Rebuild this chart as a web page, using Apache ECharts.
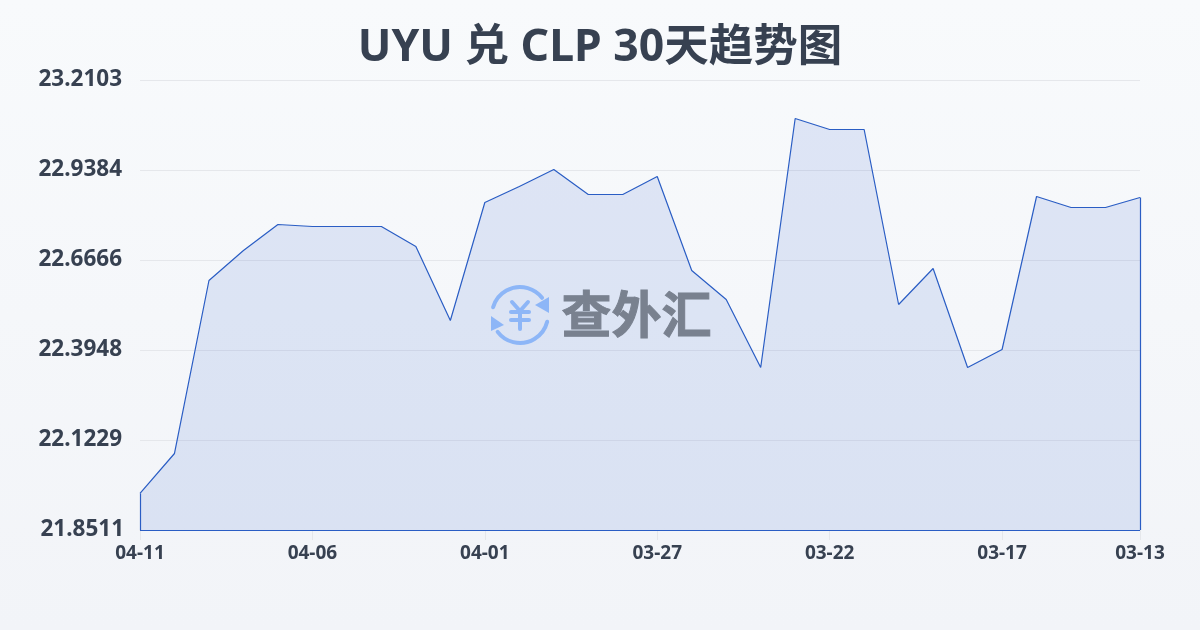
<!DOCTYPE html>
<html><head><meta charset="utf-8">
<style>html,body{margin:0;padding:0;background:#f6f8fb}#c{width:1200px;height:630px}</style>
<script src="https://cdn.jsdelivr.net/npm/echarts@6/dist/echarts.min.js"></script>
</head><body><div id="c"></div>
<script>
const titleText = 'UYU 兑 CLP 30天趋势图';
const dates = ['04-11','04-10','04-09','04-08','04-07','04-06','04-05','04-04','04-03','04-02','04-01','03-31','03-30','03-29','03-28','03-27','03-26','03-25','03-24','03-23','03-22','03-21','03-20','03-19','03-18','03-17','03-16','03-15','03-14','03-13'];
const rates = [21.9614,22.0822,22.6047,22.6953,22.7739,22.7678,22.7678,22.7678,22.7074,22.4839,22.8403,22.8886,22.9400,22.8645,22.8645,22.9188,22.6349,22.5473,22.3419,23.0940,23.0608,23.0608,22.5322,22.6410,22.3419,22.3963,22.8584,22.8252,22.8252,22.8554];
const yTicks = [21.8511,22.1229,22.3948,22.6666,22.9384,23.2103];
const xLabelIndexes = [0,5,10,15,20,25,29];

const LINE = '#2a5dc4', FONT = '"Noto Sans","Noto Sans CJK SC",sans-serif';
const yMin = yTicks[0], yMax = yTicks[yTicks.length-1], last = dates.length-1;
const showX = i => xLabelIndexes.includes(i);
const ic = {stroke:'#8db6f7', lineWidth:4, fill:'none', lineCap:'round'};
const deg = d => d*Math.PI/180;
const seg = (x1,y1,x2,y2) => ({type:'line',z:50,shape:{x1,y1,x2,y2},style:ic});
const yLabelStyle = {color:'#374151',fontFamily:FONT,fontSize:22.5,fontWeight:'bold'};

const chart = echarts.init(document.getElementById('c'));
chart.setOption({
  animation:false,
  backgroundColor:{type:'linear',x:0,y:0,x2:0,y2:1,colorStops:[{offset:0,color:'#f8fafc'},{offset:1,color:'#f2f4f8'}]},
  title:{text:titleText,left:'center',top:21,textStyle:{fontFamily:FONT,fontSize:44.5,fontWeight:'bold',color:'#374151'}},
  grid:{left:140,right:60,top:80,bottom:100,containLabel:false},
  xAxis:{type:'category',data:dates,boundaryGap:false,
    axisLine:{show:true,lineStyle:{color:'#e5e7eb'}},
    axisTick:{show:true,length:10,interval:showX,lineStyle:{color:'#e5e7eb'}},
    axisLabel:{interval:showX,margin:14,color:'#374151',fontFamily:FONT,fontSize:19,fontWeight:'bold'},
    splitLine:{show:false}},
  yAxis:{type:'value',min:yMin,max:yMax,
    axisLine:{show:false},
    axisTick:{show:false,customValues:yTicks},
    axisLabel:{customValues:yTicks,margin:16,
      formatter:v=>(v===yMin?'{low|':'{std|')+v.toFixed(4)+'}',
      rich:{std:{...yLabelStyle,padding:[0,2,0,0]},low:{...yLabelStyle,padding:[0,0,1,0]}}},
    splitLine:{show:true,lineStyle:{color:'#e5e7eb',width:1}}},
  series:[{type:'line',data:rates,showSymbol:false,symbol:'none',smooth:false,z:3,
    lineStyle:{color:LINE,width:1.2},
    areaStyle:{color:'rgba(30,85,205,0.17)',origin:'start'},
    markLine:{silent:true,symbol:'none',label:{show:false},lineStyle:{color:LINE,width:1.2,type:'solid'},
      data:[
        [{xAxis:0,yAxis:yMin},{xAxis:0,yAxis:rates[0]}],
        [{xAxis:last,yAxis:yMin},{xAxis:last,yAxis:rates[last]}],
        [{xAxis:0,yAxis:yMin},{xAxis:last,yAxis:yMin}]
      ]}
  }],
  graphic:[
    {type:'arc',z:50,shape:{cx:520,cy:315,r:28,startAngle:deg(196),endAngle:deg(322),clockwise:true},style:ic},
    {type:'arc',z:50,shape:{cx:520,cy:315,r:28,startAngle:deg(14),endAngle:deg(143),clockwise:true},style:ic},
    {type:'polygon',z:50,shape:{points:[[549,297],[549,313],[535,305]]},style:{fill:'#8db6f7'}},
    {type:'polygon',z:50,shape:{points:[[491,316],[491,331],[504,325]]},style:{fill:'#8db6f7'}},
    seg(512,302,520,311),seg(528,302,520,311),seg(511,312,529,312),seg(511,320,529,320),seg(520,311,520,329),
    {type:'text',z:50,left:561,top:289,style:{text:'查外汇',fill:'#79818f',stroke:'#79818f',lineWidth:1,fontFamily:'"Noto Sans CJK SC"',fontSize:50,fontWeight:'bold'}}
  ]
});
</script></body></html>
